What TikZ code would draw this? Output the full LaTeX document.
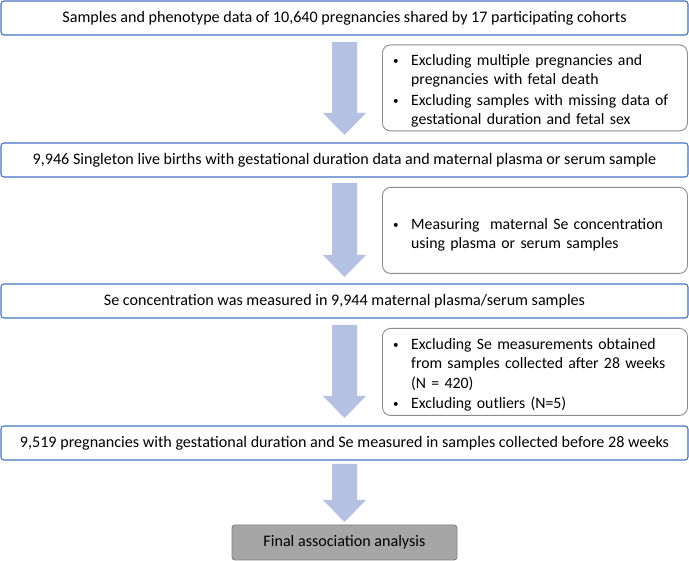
\documentclass[tikz,border=0pt]{standalone}
\usepackage{fontspec}
\setmainfont{Carlito}
\definecolor{mainblue}{HTML}{4472C4}
\definecolor{exgray}{HTML}{8C8C8C}
\definecolor{arrowfill}{HTML}{B4C1E2}
\definecolor{finalfill}{HTML}{A6A6A6}
\definecolor{finaldraw}{HTML}{7F7F7F}
\newcommand\blockarrow[4]{% name, x centre, top, tip
  \fill[arrowfill] (#2-12.5,#3) -- (#2+12.5,#3) -- (#2+12.5,#4-22) -- (#2+21.5,#4-22)
    -- (#2,#4) -- (#2-21.5,#4-22) -- (#2-12.5,#4-22) -- cycle;
  \coordinate (#1) at (#2,#4);}
\newcommand\bul[1]{\par\noindent\makebox[24pt][l]{\hspace{6pt}\raisebox{1pt}{\fontsize{11}{11}\selectfont•}}\begin{tabular}[t]{@{}l@{}}#1\end{tabular}\par}
\begin{document}
\begin{tikzpicture}[x=1pt,y=-1pt,
  font=\fontsize{16.1}{19.5}\selectfont,
  mainbox/.style={draw=mainblue, line width=1.1pt, rounded corners=3pt, fill=white,
    minimum width=687, minimum height=34, inner sep=0pt},
  exbox/.style={draw=exgray, line width=0.9pt, rounded corners=8pt,
    minimum width=305, minimum height=86, inner sep=0pt, anchor=north west},
  extext/.style={anchor=west, text width=298, align=left, inner sep=0pt,
    font=\fontsize{15.8}{19.5}\selectfont},
  finalbox/.style={draw=finaldraw, line width=0.9pt, rounded corners=3pt, fill=finalfill,
    minimum width=225, minimum height=35, inner sep=0pt}]
\useasboundingbox (0,0) rectangle (689,561);

\node[mainbox] (b1) at (344.5,18) {Samples and phenotype data of 10,640 pregnancies shared by 17 participating cohorts};
\node[mainbox] (b2) at (344.5,160) {9,946 Singleton live births with gestational duration data and maternal plasma or serum sample};
\node[mainbox] (b3) at (344.5,301) {Se concentration was measured in 9,944 maternal plasma/serum samples};
\node[mainbox] (b4) at (344.5,443) {9,519 pregnancies with gestational duration and Se measured in samples collected before 28 weeks};
\node[finalbox] (fin) at (344.5,542.5) {Final association analysis};

\node[exbox] (e1) at (382,44.5) {};
\node[extext] (t1) at (387,88) {\bul{Excluding multiple pregnancies and\\ pregnancies with fetal death}\bul{Excluding samples with missing data of\\ gestational duration and fetal sex}};
\node[exbox] (e2) at (382,187) {};
\node[extext] (t2) at (387,232) {\bul{Measuring\ \ maternal Se concentration\\ using plasma or serum samples}};
\node[exbox, minimum height=87] (e3) at (382,328) {};
\node[extext] (t3) at (387,372) {\bul{Excluding Se measurements obtained\\ from samples collected after 28 weeks\\ (N = 420)}\bul{Excluding outliers (N=5)}};

\blockarrow{a1}{344.5}{42}{135}
\blockarrow{a2}{344.5}{183}{277}
\blockarrow{a3}{344.5}{325}{418}
\blockarrow{a4}{344.5}{464}{522}
\end{tikzpicture}
\end{document}
